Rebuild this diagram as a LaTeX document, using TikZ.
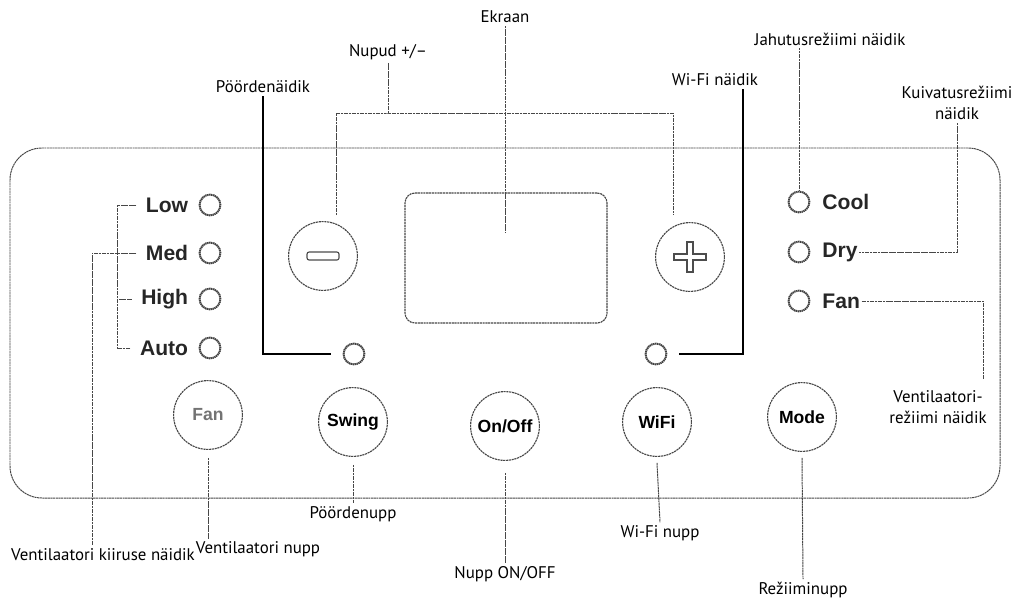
\documentclass[tikz,border=0pt]{standalone}
\usepackage{fontspec}
\setmainfont{PT Sans}
\newfontfamily\panelfont{Liberation Sans}
\usetikzlibrary{positioning,calc}

\begin{document}
\begin{tikzpicture}[
    x=0.025cm, y=-0.025cm,
    font=\fontsize{12}{14.5}\selectfont,
    lead/.style={
        draw=black!72,
        line width=0.7pt,
        dash pattern=on 1.5pt off 0.4pt
    },
    boldlead/.style={
        draw=black,
        line width=1.3pt
    },
    callout/.style={
        align=center,
        inner sep=2pt
    },
    btn/.style={
        circle,
        draw=black!72,
        line width=0.8pt,
        dash pattern=on 1.5pt off 0.5pt,
        minimum size=1.72cm,
        inner sep=0pt,
        font=\panelfont\bfseries\fontsize{12.5}{14}\selectfont
    },
    led/.style={
        circle,
        draw=black!75,
        line width=1.4pt,
        dash pattern=on 1pt off 0.4pt,
        minimum size=0.52cm,
        inner sep=0pt
    },
    paneltext/.style={
        font=\panelfont\bfseries\fontsize{15}{17}\selectfont,
        text=black!85,
        inner sep=1pt
    }
]

\useasboundingbox (0,0) rectangle (1016,599);

% Panel and screen
\draw[lead] (10,148) [rounded corners=0.8cm] rectangle (1000,498);
\node[draw=black!72, line width=0.8pt, dash pattern=on 1.5pt off 0.5pt,
      rounded corners=0.25cm, minimum width=5.05cm, minimum height=3.25cm] (screen) at (506,258) {};

% Fan speed indicators
\coordinate (brx) at (117,0);
\foreach \n/\t/\y in {low/Low/205, med/Med/253, high/High/299, auto/Auto/348} {
    \node[led] (\n-led) at (210,\y) {};
    \node[paneltext, left=0.22cm of \n-led] (\n) {\t};
    \draw[lead] ([xshift=-0.2cm]\n.west) -- (\n.west -| brx);
}
\draw[lead] (low.west -| brx) -- (auto.west -| brx);

% Mode indicators
\foreach \n/\t/\y in {cool/Cool/202, dry/Dry/252, fanm/Fan/301} {
    \node[led] (\n-led) at (799,\y) {};
    \node[paneltext, right=0.26cm of \n-led] (\n) {\t};
}

% Swing and Wi-Fi indicators
\node[led] (swing-led) at (354,354) {};
\node[led] (wifi-led) at (656,354) {};

% Buttons
\foreach \n/\t/\x/\y in {swing/Swing/353/422, onoff/{On/Off}/505/426, wifi/WiFi/657/422, mode/Mode/802/417} {
    \node[btn] (\n) at (\x,\y) {\t};
}
\node[btn, text=black!55] (fan) at (208,415) {Fan};
\node[btn] (minus) at (323,256) {};
\node[btn] (plus) at (690,257) {};
\draw[black!70, line width=0.8pt, rounded corners=1.5pt]
    ([shift={(-16,-4)}]minus.center) rectangle ([shift={(16,4)}]minus.center);
\draw[black!70, line width=0.8pt]
    ([shift={(-3,-15)}]plus.center) -- ++(6,0) -- ++(0,12) -- ++(13,0) -- ++(0,6)
    -- ++(-13,0) -- ++(0,12) -- ++(-6,0) -- ++(0,-12) -- ++(-13,0) -- ++(0,-6)
    -- ++(13,0) -- cycle;

% Callouts above
\node[callout] (lbl-screen) at (505,17) {Ekraan};
\node[callout] (lbl-plusminus) at (388,52) {Nupud +/–};
\node[callout] (lbl-swingled) at (263,87) {Pöördenäidik};
\node[callout] (lbl-wifiled) at (715,80) {Wi-Fi näidik};
\node[callout] (lbl-cool) at (830,39) {Jahutusrežiimi näidik};
\node[callout] (lbl-dry) at (957,103) {Kuivatusrežiimi\\näidik};
\node[callout] (lbl-fanmode) at (938,407) {Ventilaatori-\\režiimi näidik};

% Callouts below
\node[callout] (lbl-speed) at (103,555) {Ventilaatori kiiruse näidik};
\node[callout] (lbl-fan) at (258,549) {Ventilaatori nupp};
\node[callout] (lbl-swing) at (353,514) {Pöördenupp};
\node[callout] (lbl-onoff) at (505,574) {Nupp ON/OFF};
\node[callout] (lbl-wifi) at (660,533) {Wi-Fi nupp};
\node[callout] (lbl-mode) at (803,590) {Režiiminupp};

% Leader lines
\coordinate (screen-tip) at (505,232);
\coordinate (minus-tip) at (336,215);
\coordinate (plus-tip) at (673,215);
\coordinate (pm-bar) at (388,113);
\coordinate (fanmode-tip) at (983,380);

\draw[lead] (lbl-screen.south) -- (screen-tip);
\draw[lead] (minus-tip) |- (pm-bar) -| (plus-tip);
\draw[lead] (lbl-plusminus.south) -- (pm-bar);
\draw[boldlead] (lbl-swingled.south) |- ([xshift=-0.3cm]swing-led.west);
\draw[boldlead] ([xshift=0.7cm]lbl-wifiled.south) |- ([xshift=0.3cm]wifi-led.east);
\draw[lead] (lbl-cool.south -| cool-led.north) -- (cool-led.north);
\draw[lead] (dry.east) -| (lbl-dry.south);
\draw[lead] (fanm.east) -| (fanmode-tip);
\draw[lead] (med.west -| brx) -| ([xshift=-0.275cm]lbl-speed.north);

\draw[lead] ([yshift=-0.2cm]fan.south) -- (fan.south |- lbl-fan.north);
\draw[lead] ([yshift=-0.2cm]swing.south) -- (lbl-swing.north);
\draw[lead] ([yshift=-0.3cm]onoff.south) -- (lbl-onoff.north);
\draw[lead] ([yshift=-0.15cm]wifi.south) -- (lbl-wifi.north);
\draw[lead] ([yshift=-0.15cm]mode.south) -- (lbl-mode.north);

\end{tikzpicture}
\end{document}
